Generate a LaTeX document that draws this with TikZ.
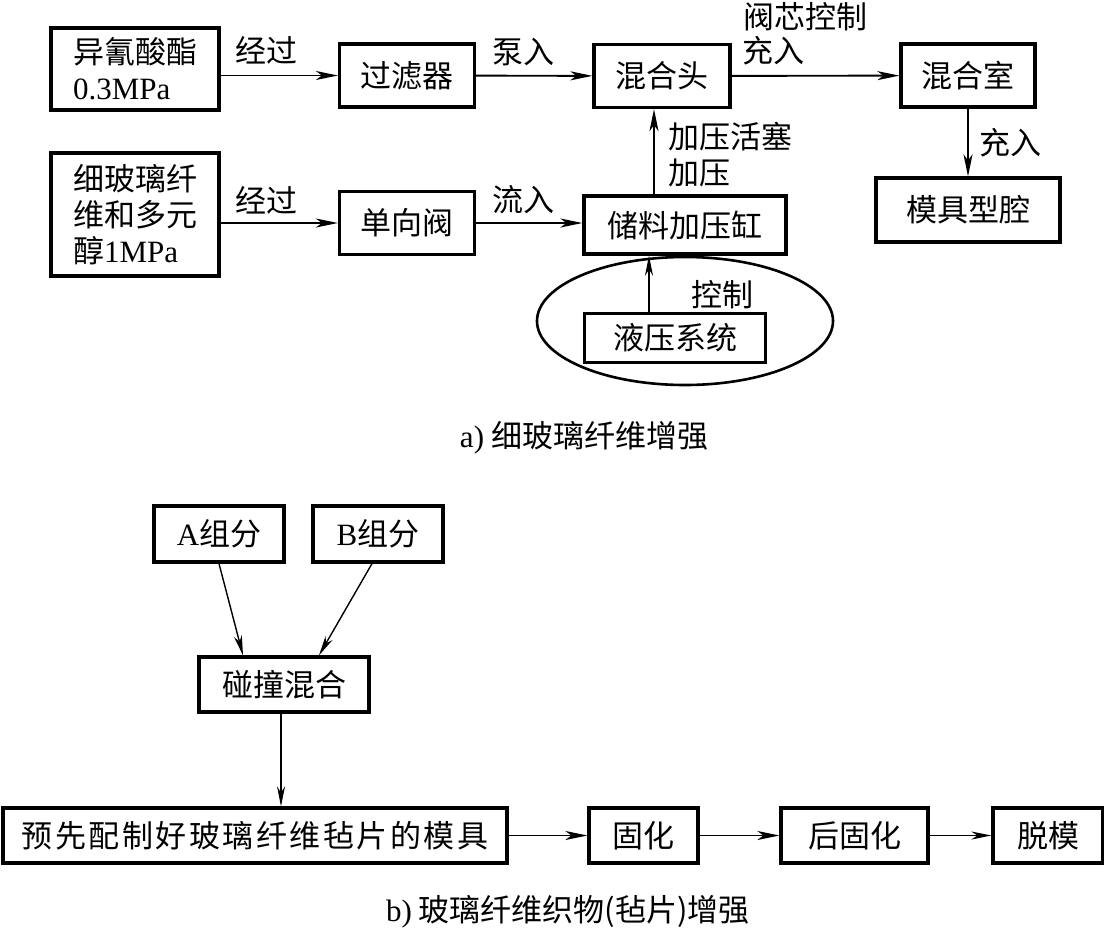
\documentclass[tikz,border=0pt]{standalone}
\usepackage{fontspec}
\setmainfont{Noto Sans CJK SC}
\newfontfamily\latf{Liberation Serif}
\usetikzlibrary{arrows.meta, positioning}

\begin{document}
\begin{tikzpicture}[
    x=1pt, y=-1pt,
    font=\fontsize{31}{36}\selectfont,
    box/.style={draw, line width=3.2pt, inner sep=0pt, minimum height=63pt,
                minimum width=135pt, align=center},
    lbl/.style={inner sep=0pt},
    arr/.style={-{Stealth[length=22pt, width=9pt, inset=6pt]}, line width=1.9pt},
    thinarr/.style={-{Stealth[length=20pt, width=8pt, inset=6pt]}, line width=1.4pt}
]
\useasboundingbox (0,0) rectangle (1104,930);

% a) fine glass fibre
\node[box, minimum width=168pt, minimum height=82pt, align=left] (iso) at (135,69)
    {异氰酸酯\\{\latf 0.3MPa}};
\node[box] (filt) at (407,75.5) {过滤器};
\node[box, minimum width=136pt] (head) at (662,76) {混合头};
\node[box, minimum width=134pt] (room) at (968,75.5) {混合室};
\node[box, minimum width=184pt, minimum height=64pt] (cavity) at (968,210) {模具型腔};

\node[box, minimum width=168pt, minimum height=123pt, align=left] (fib) at (135,214.5)
    {细玻璃纤\\维和多元\\醇{\latf 1MPa}};
\node[box] (valve) at (407,223) {单向阀};
\node[box, minimum width=202pt, minimum height=58pt] (cyl) at (685,225) {储料加压缸};

% hydraulic unit
\draw[line width=2.6pt] (685,321) ellipse [x radius=148, y radius=64];
\node[box, minimum width=181pt, minimum height=49pt] (hyd) at (675,338) {液压系统};

\draw[arr] (iso.east |- filt) -- (filt.west);
\draw[arr] (filt) -- (head);
\draw[arr] (head) -- (room);
\draw[arr] (room) -- (cavity);
\draw[arr] (fib.east |- valve) -- (valve.west);
\draw[arr] (valve.east) -- (cyl.west |- valve.east);
\draw[arr] ([xshift=-31pt]cyl.north) -- ([xshift=-31pt]cyl.north |- head.south);
\draw[thinarr] ([xshift=-26pt]hyd.north) -- ([xshift=-26pt]hyd.north |- cyl.south);

\node[lbl] (l1) at (266,50) {经过};
\node[lbl] (l2) at (523,52) {泵入};
\node[lbl] (l3) at (805,17) {阀芯控制};
\node[lbl] (l4) at (773,51) {充入};
\node[lbl] (l5) at (1010,143) {充入};
\node[lbl, anchor=west, align=left] (l6) at (668,154.5) {加压活塞\\加压};
\node[lbl] (l7) at (266,200) {经过};
\node[lbl] (l8) at (523,200) {流入};
\node[lbl] (l9) at (722,295) {控制};
\node[lbl] (capa) at (584,438) {{\latf a)} 细玻璃纤维增强};

% b) glass fibre mat
\node[box, minimum width=130pt, minimum height=56pt] (compa) at (219,534) {{\latf A}组分};
\node[box, minimum width=130pt, minimum height=56pt] (compb) at (378,534) {{\latf B}组分};
\node[box, minimum width=170pt, minimum height=55pt] (hit) at (284,684.5) {碰撞混合};
\node[box, minimum width=504pt, minimum height=55pt] (mould) at (255,835.5)
    {\addfontfeature{LetterSpace=8}预先配制好玻璃纤维毡片的模具};
\node[box, minimum width=109pt, minimum height=55pt] (cure) at (643.5,835.5) {固化};
\node[box, minimum width=147pt, minimum height=55pt] (post) at (854.5,835.5) {后固化};
\node[box, minimum width=110pt, minimum height=55pt] (demold) at (1048,835.5) {脱模};

\draw[thinarr] (compa.south) -- ([xshift=-41pt]hit.north);
\draw[thinarr] ([xshift=-6pt]compb.south) -- ([xshift=35pt]hit.north);
\draw[thinarr] ([xshift=-3pt]hit.south) -- ([xshift=-3pt]hit.south |- mould.north);
\draw[arr] (mould) -- (cure);
\draw[arr] (cure) -- (post);
\draw[thinarr] (post) -- (demold);

\node[lbl] (capb) at (568,912) {{\latf b)} 玻璃纤维织物(毡片)增强};
\end{tikzpicture}
\end{document}
